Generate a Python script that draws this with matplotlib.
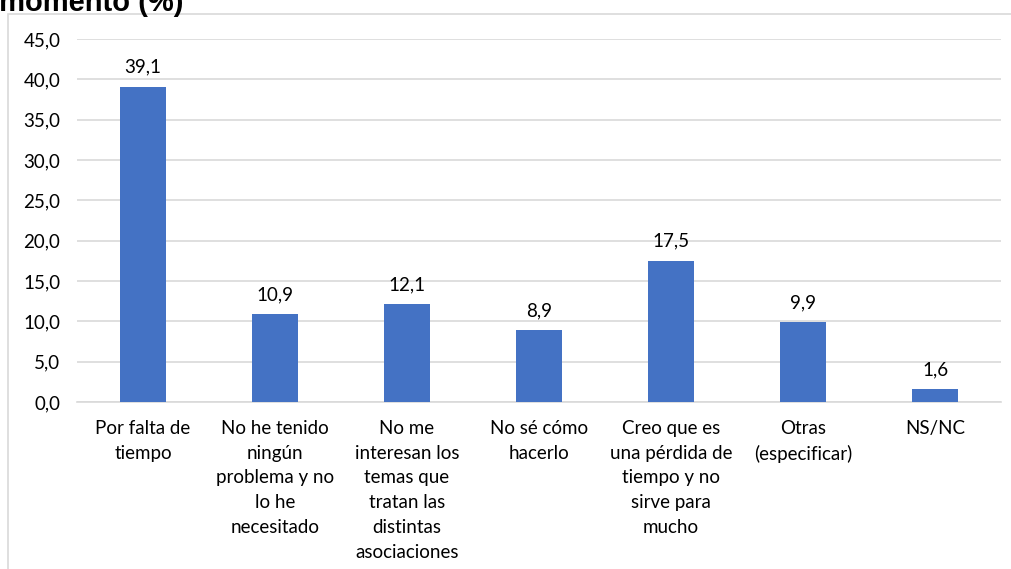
import matplotlib
matplotlib.use('Agg')
import matplotlib.pyplot as plt
import matplotlib.patches as mpatches

plt.rcParams['font.family'] = ['Lato', 'DejaVu Sans']

categories = ['Por falta de\ntiempo',
              'No he tenido\nningún\nproblema y no\nlo he\nnecesitado',
              'No me\ninteresan los\ntemas que\ntratan las\ndistintas\nasociaciones',
              'No sé cómo\nhacerlo',
              'Creo que es\nuna pérdida de\ntiempo y no\nsirve para\nmucho',
              'Otras\n(especificar)',
              'NS/NC']
values = [39.1, 10.9, 12.1, 8.9, 17.5, 9.9, 1.6]
yticks = [0, 5, 10, 15, 20, 25, 30, 35, 40, 45]

W, H = 1011, 569
fig = plt.figure(figsize=(W / 100, H / 100), dpi=100)
ax = fig.add_axes([77 / W, (H - 402) / H, (1001 - 77) / W, (402 - 39) / H])

# chart frame (light gray, partly cut off by the image)
frame = mpatches.Rectangle((8 / W, -0.1), 1.2, 1 - 14 / H + 0.1, transform=fig.transFigure,
                           fill=False, edgecolor='#d9d9d9', linewidth=1.2, clip_on=False)
fig.patches.append(frame)

x = range(len(values))
ax.bar(x, values, width=0.35, color='#4472C4', zorder=3)
for xi, v in zip(x, values):
    ax.annotate(f'{v:.1f}'.replace('.', ','), (xi, v), xytext=(0, 8), textcoords='offset points',
                ha='center', va='bottom', fontsize=13.5)

ax.set_xlim(-0.5, len(values) - 0.5)
ax.set_ylim(0, 45)
ax.set_yticks(yticks)
ax.set_yticklabels([f'{t:.1f}'.replace('.', ',') for t in yticks], fontsize=13.5)
ax.set_xticks(list(x))
ax.set_xticklabels(categories, fontsize=13.5, linespacing=1.55)
ax.tick_params(axis='y', length=0, pad=12)
ax.tick_params(axis='x', length=0, pad=13)
ax.grid(axis='y', color='#d9d9d9', linewidth=1.2, zorder=0)
for s in ['top', 'right', 'left']:
    ax.spines[s].set_visible(False)
ax.spines['bottom'].set_color('#d9d9d9')
ax.spines['bottom'].set_linewidth(1.2)

# title, cut off at the top of the image
fig.text(183 / W, 1 - 11 / H, 'Motivos por los que no participa en este momento (%)',
         ha='right', va='baseline', fontsize=21, fontweight='bold',
         family=['Liberation Sans', 'DejaVu Sans'])

fig.savefig('out.png', dpi=100)
